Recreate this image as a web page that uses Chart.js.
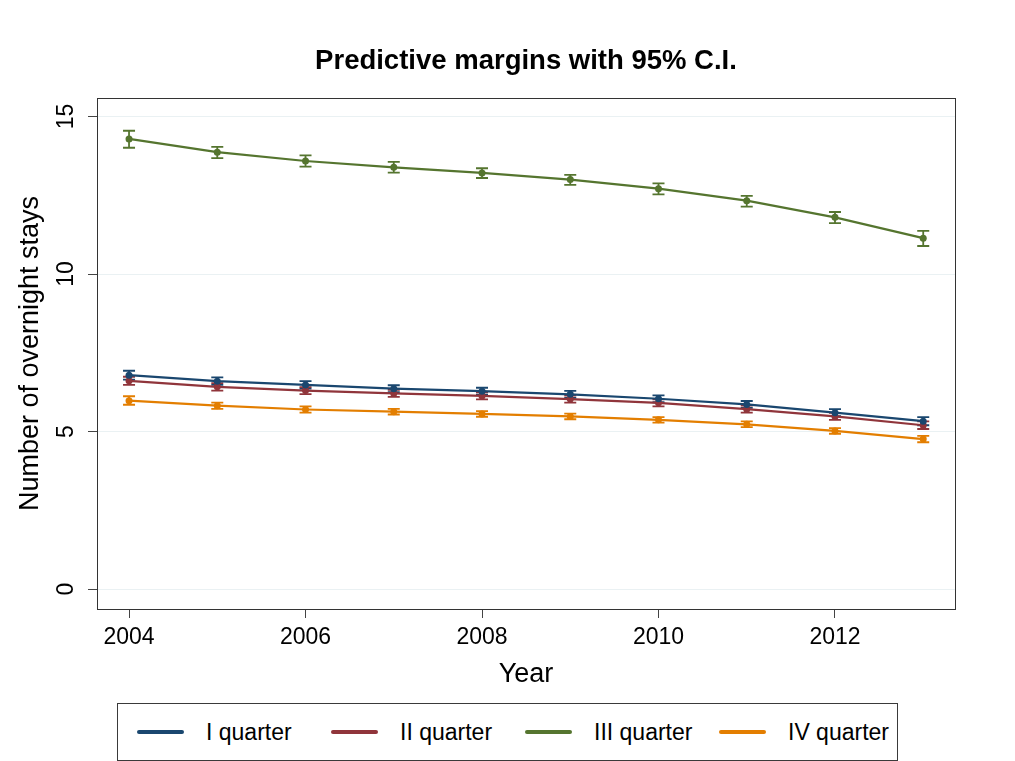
<!DOCTYPE html>
<html>
<head>
<meta charset="utf-8">
<title>Predictive margins with 95% C.I.</title>
<script src="https://cdn.jsdelivr.net/npm/chart.js@4"></script>
<style>
  body { margin: 0; background: #fff; }
  #wrap { position: relative; width: 1015px; height: 761px; }
  #legend {
    position: absolute; left: 117px; top: 703px; width: 781px; height: 58px;
    box-sizing: border-box; border: 1px solid #3a3a3a; background: #fff;
    display: grid; grid-template-columns: repeat(4, 194px); padding-left: 19px;
    align-items: center; font: 23px "Liberation Sans", Arial, sans-serif; color: #000;
  }
  #legend .item { display: flex; align-items: center; white-space: nowrap; }
  #legend .swatch { width: 47px; height: 4px; border-radius: 2px; margin-right: 22px; }
</style>
</head>
<body>
<div id="wrap">
  <canvas id="margins_chart" width="1015" height="761"></canvas>
  <div id="legend"></div>
</div>
<script>
"use strict";

// data
var years = [2004, 2005, 2006, 2007, 2008, 2009, 2010, 2011, 2012, 2013];
var xTicks = [2004, 2006, 2008, 2010, 2012];
var yTicks = [0, 5, 10, 15];
var seriesNames = ["I quarter", "II quarter", "III quarter", "IV quarter"];

var q1 = [6.79, 6.60, 6.48, 6.36, 6.28, 6.18, 6.04, 5.86, 5.60, 5.33];
var q1Lo = [6.65, 6.48, 6.36, 6.25, 6.17, 6.07, 5.93, 5.75, 5.49, 5.20];
var q1Hi = [6.93, 6.72, 6.60, 6.47, 6.39, 6.29, 6.15, 5.97, 5.71, 5.46];

var q2 = [6.61, 6.42, 6.30, 6.21, 6.13, 6.03, 5.91, 5.71, 5.48, 5.20];
var q2Lo = [6.48, 6.30, 6.19, 6.10, 6.02, 5.92, 5.80, 5.60, 5.37, 5.08];
var q2Hi = [6.74, 6.54, 6.41, 6.32, 6.24, 6.14, 6.02, 5.82, 5.59, 5.32];

var q3 = [14.29, 13.87, 13.59, 13.39, 13.21, 13.00, 12.71, 12.33, 11.80, 11.14];
var q3Lo = [14.01, 13.68, 13.41, 13.22, 13.05, 12.83, 12.53, 12.14, 11.62, 10.89];
var q3Hi = [14.55, 14.04, 13.77, 13.56, 13.36, 13.15, 12.88, 12.48, 11.97, 11.37];

var q4 = [5.98, 5.82, 5.70, 5.63, 5.56, 5.48, 5.37, 5.23, 5.02, 4.76];
var q4Lo = [5.85, 5.72, 5.60, 5.54, 5.47, 5.39, 5.28, 5.14, 4.93, 4.66];
var q4Hi = [6.12, 5.92, 5.80, 5.72, 5.65, 5.57, 5.46, 5.32, 5.11, 4.86];

var colors = ['#1a476f', '#90353b', '#55752f', '#e37e00'];
var FONT = '"Liberation Sans", Arial, Helvetica, sans-serif';

function points(values) {
    return years.map(function (yr, i) { return {x: yr, y: values[i]}; });
}

function series(idx, values, lo, hi) {
    return {
        label: seriesNames[idx],
        data: points(values),
        ciLow: lo,
        ciHigh: hi,
        borderColor: colors[idx],
        backgroundColor: colors[idx],
        borderWidth: 2.2,
        pointRadius: 3.5,
        pointBorderWidth: 0,
        pointBackgroundColor: colors[idx],
        tension: 0
    };
}

// 95% CI caps, drawn under the lines
var ciPlugin = {
    id: 'ciBars',
    beforeDatasetsDraw: function (chart) {
        var ctx = chart.ctx, xs = chart.scales.x, ys = chart.scales.y;
        ctx.save();
        chart.data.datasets.forEach(function (ds) {
            ctx.strokeStyle = ds.borderColor;
            ctx.lineWidth = 1.8;
            years.forEach(function (yr, i) {
                var x = xs.getPixelForValue(yr);
                var y0 = ys.getPixelForValue(ds.ciLow[i]);
                var y1 = ys.getPixelForValue(ds.ciHigh[i]);
                ctx.beginPath();
                ctx.moveTo(x, y0); ctx.lineTo(x, y1);
                ctx.moveTo(x - 6, y0); ctx.lineTo(x + 6, y0);
                ctx.moveTo(x - 6, y1); ctx.lineTo(x + 6, y1);
                ctx.stroke();
            });
        });
        ctx.restore();
    }
};

// frame round the plot region + Stata style vertical y labels
var framePlugin = {
    id: 'frame',
    afterDraw: function (chart) {
        var ctx = chart.ctx, a = chart.chartArea, ys = chart.scales.y;
        ctx.save();
        ctx.strokeStyle = '#333';
        ctx.lineWidth = 1;
        ctx.strokeRect(a.left + 0.5, a.top + 0.5, a.right - a.left, a.bottom - a.top);

        ctx.font = '23px ' + FONT;
        ctx.fillStyle = '#000';
        ctx.textAlign = 'center';
        ctx.textBaseline = 'middle';
        ys.ticks.forEach(function (t) {
            ctx.save();
            ctx.translate(a.left - 30, ys.getPixelForValue(t.value));
            ctx.rotate(-Math.PI / 2);
            ctx.fillText(t.label, 0, 0);
            ctx.restore();
        });
        ctx.restore();
    }
};

var htmlLegend = {
    id: 'htmlLegend',
    afterUpdate: function (chart) {
        var box = document.getElementById('legend');
        box.innerHTML = '';
        chart.data.datasets.forEach(function (ds) {
            var item = document.createElement('div');
            item.className = 'item';
            var sw = document.createElement('span');
            sw.className = 'swatch';
            sw.style.background = ds.borderColor;
            var tx = document.createElement('span');
            tx.textContent = ds.label;
            item.appendChild(sw);
            item.appendChild(tx);
            box.appendChild(item);
        });
    }
};

var marginsArea = document.getElementById("margins_chart");
var marginsChart = new Chart(marginsArea, {
    type: 'line',
    data: {
        datasets: [
            series(0, q1, q1Lo, q1Hi),
            series(1, q2, q2Lo, q2Hi),
            series(2, q3, q3Lo, q3Hi),
            series(3, q4, q4Lo, q4Hi)
        ]
    },
    options: {
        responsive: false,
        animation: false,
        layout: {padding: 0},
        plugins: {
            legend: {display: false},
            tooltip: {enabled: false},
            title: {
                display: true,
                fullSize: false,
                text: 'Predictive margins with 95% C.I.',
                color: '#000',
                font: {family: FONT, size: 27.5, weight: 'bold'},
                padding: {top: 45, bottom: 20}
            }
        },
        scales: {
            x: {
                type: 'linear',
                min: 2003.637,
                max: 2013.36,
                afterBuildTicks: function (s) { s.ticks = xTicks.map(function (v) { return {value: v}; }); },
                afterFit: function (s) { s.height = 152; },
                border: {display: false},
                grid: {drawOnChartArea: false, drawTicks: true, tickLength: 9, tickColor: '#444'},
                ticks: {
                    color: '#000',
                    font: {family: FONT, size: 23},
                    padding: 6,
                    maxRotation: 0,
                    callback: function (v) { return String(v); }
                },
                title: {
                    display: true,
                    text: 'Year',
                    color: '#000',
                    font: {family: FONT, size: 27},
                    padding: {top: 0, bottom: 70.5}
                }
            },
            y: {
                type: 'linear',
                min: -0.635,
                max: 15.59,
                afterBuildTicks: function (s) { s.ticks = yTicks.map(function (v) { return {value: v}; }); },
                afterFit: function (s) { s.width = 97; },
                border: {display: false},
                grid: {color: '#eaf1f3', lineWidth: 1, drawTicks: true, tickLength: 9, tickColor: '#444'},
                ticks: {display: false},
                title: {
                    display: true,
                    text: 'Number of overnight stays',
                    color: '#000',
                    font: {family: FONT, size: 27},
                    padding: {top: 14, bottom: 0}
                }
            },
            yR: {
                type: 'linear',
                position: 'right',
                display: true,
                afterFit: function (s) { s.width = 60; },
                border: {display: false},
                grid: {display: false},
                ticks: {display: false}
            }
        }
    },
    plugins: [ciPlugin, framePlugin, htmlLegend]
});
</script>
</body>
</html>
